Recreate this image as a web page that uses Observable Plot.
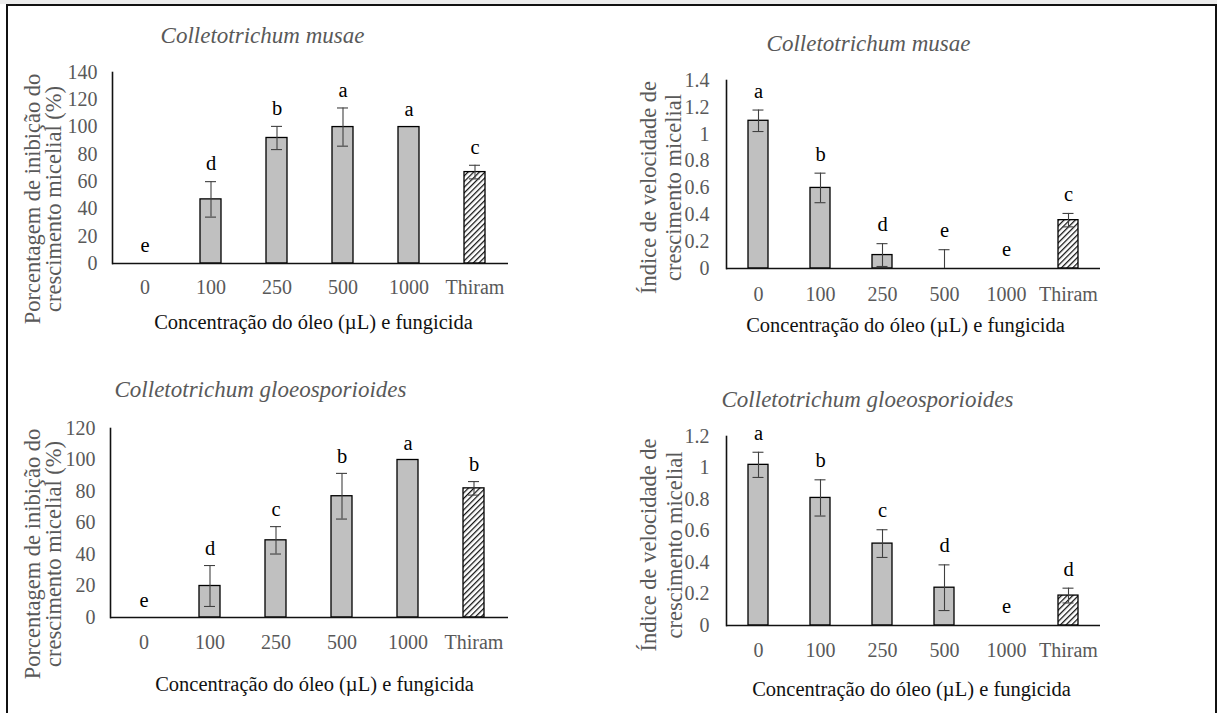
<!DOCTYPE html>
<html>
<head>
<meta charset="utf-8">
<script src="https://cdn.jsdelivr.net/npm/d3@7"></script>
<script src="https://cdn.jsdelivr.net/npm/@observablehq/plot@0.6"></script>
<style>
  html, body { margin: 0; padding: 0; background: #fff; }
  #wrap { position: relative; width: 1217px; height: 713px; overflow: hidden; background: #fff; }
  #topband { position: absolute; left: 0; top: 0; width: 1217px; height: 4px; background: #ececec; }
  #border { position: absolute; left: 6px; top: 4px; width: 1207px; height: 760px;
            border-top: 2px solid #111; border-left: 2px solid #111; border-right: 2px solid #111; }
  .panel { position: absolute; }
  .panel svg { overflow: visible; }
</style>
</head>
<body>
<svg width="0" height="0" style="position:absolute">
  <defs>
    <pattern id="hatch" patternUnits="userSpaceOnUse" width="4" height="4" patternTransform="rotate(45)">
      <rect width="4" height="4" fill="#fff"></rect>
      <line x1="0.6" y1="0" x2="0.6" y2="4" stroke="#111" stroke-width="1.3"></line>
    </pattern>
  </defs>
</svg>
<div id="wrap">
  <div id="topband"></div>
  <div id="border"></div>
</div>
<script>
// ---- data ----
const categories = ["0", "100", "250", "500", "1000", "Thiram"];

const musaeInhibition = [0, 47, 92, 100, 100, 67];
const musaeInhibitionErr = [0, 13, 8.5, 14, 0, 5];
const musaeInhibitionLetters = ["e", "d", "b", "a", "a", "c"];

const musaeIndex = [1.1, 0.6, 0.1, 0, 0, 0.36];
const musaeIndexErr = [0.08, 0.11, 0.085, 0.14, 0, 0.05];
const musaeIndexLetters = ["a", "b", "d", "e", "e", "c"];

const gloeoInhibition = [0, 20, 49, 77, 100, 82];
const gloeoInhibitionErr = [0, 13, 8.7, 14.5, 0, 4.3];
const gloeoInhibitionLetters = ["e", "d", "c", "b", "a", "b"];

const gloeoIndex = [1.02, 0.81, 0.52, 0.24, 0, 0.19];
const gloeoIndexErr = [0.08, 0.115, 0.088, 0.145, 0, 0.047];
const gloeoIndexLetters = ["a", "b", "c", "d", "e", "d"];

const ticksInhib140 = [0, 20, 40, 60, 80, 100, 120, 140];
const ticksInhib120 = [0, 20, 40, 60, 80, 100, 120];
const ticksIndex14 = [0, 0.2, 0.4, 0.6, 0.8, 1, 1.2, 1.4];
const ticksIndex12 = [0, 0.2, 0.4, 0.6, 0.8, 1, 1.2];

const titleMusae = "Colletotrichum musae";
const titleGloeo = "Colletotrichum gloeosporioides";
const xLabel = "Concentração do óleo (µL) e fungicida";
const yLabelInhib = "Porcentagem de inibição do\ncrescimento micelial (%)";
const yLabelIndex = "Índice de velocidade de\ncrescimento micelial";

const FONT = "'Liberation Serif', 'Times New Roman', serif";

function panel(cfg) {
  const data = categories.map((c, i) => ({cat: c, v: cfg.values[i], e: cfg.errors[i], l: cfg.letters[i]}));
  const plain = data.filter(d => d.cat !== "Thiram");
  const hatched = data.filter(d => d.cat === "Thiram");
  const err = data.filter(d => d.e > 0);
  const errLow = err.filter(d => d.v - d.e > 0);
  const capInset = cfg.capInset;
  return Plot.plot({
    width: cfg.width,
    height: cfg.height,
    marginLeft: cfg.ml, marginRight: cfg.mr, marginTop: cfg.mt, marginBottom: cfg.mb,
    style: {fontFamily: FONT, background: "transparent", overflow: "visible"},
    x: {domain: categories, paddingInner: 0.68, paddingOuter: 0.34, label: null},
    y: {domain: [0, cfg.ymax], label: null},
    marks: [
      Plot.axisY({ticks: cfg.ticks, tickSize: 0, tickPadding: cfg.tickPadY, fontSize: 20, fill: "#595959",
                  tickFormat: d => String(+d.toFixed(1)), label: null}),
      Plot.axisX({tickSize: 0, tickPadding: cfg.tickPadX, fontSize: 20, fill: "#595959", label: null}),
      Plot.barY(plain, {x: "cat", y: "v", fill: "#c0c0c0", stroke: "#000", strokeWidth: 1.3}),
      Plot.barY(hatched, {x: "cat", y: "v", fill: "url(#hatch)", stroke: "#000", strokeWidth: 1.3}),
      Plot.ruleY([0], {stroke: "#111", strokeWidth: 1.6}),
      Plot.frame({anchor: "left", stroke: "#111", strokeWidth: 1.6}),
      Plot.ruleX(err, {x: "cat", y1: d => Math.max(0, d.v - d.e), y2: d => d.v + d.e, stroke: "#404040", strokeWidth: 1.1}),
      Plot.tickY(err, {x: "cat", y: d => d.v + d.e, insetLeft: capInset, insetRight: capInset, stroke: "#404040", strokeWidth: 1.1}),
      Plot.tickY(errLow, {x: "cat", y: d => d.v - d.e, insetLeft: capInset, insetRight: capInset, stroke: "#404040", strokeWidth: 1.1}),
      Plot.text(data, {x: "cat", y: d => d.v + d.e, text: "l", dy: cfg.letterDy, fontSize: 20.5, fill: "#000"}),
      Plot.text([cfg.title], {frameAnchor: "top", textAnchor: "middle", lineAnchor: "middle",
                              dx: cfg.titleDx, dy: cfg.titleDy, fontSize: 23,
                              fontStyle: "italic", fill: "#595959"}),
      Plot.text([xLabel], {frameAnchor: "bottom", textAnchor: "middle", lineAnchor: "middle",
                           dx: cfg.xlDx, dy: cfg.xlDy, fontSize: 20.5, fill: "#111"}),
      Plot.text([cfg.ylabel], {frameAnchor: "left", textAnchor: "middle", lineAnchor: "middle",
                               rotate: -90, dx: cfg.ylDx, dy: cfg.ylDy, fontSize: cfg.ylFS,
                               lineHeight: cfg.ylLH, fill: "#595959"})
    ]
  });
}

const panels = [
  {left: 0, top: 0, width: 608, height: 356, ml: 112, mr: 100, mt: 72, mb: 93,
   values: musaeInhibition, errors: musaeInhibitionErr, letters: musaeInhibitionLetters,
   ymax: 140, ticks: ticksInhib140, title: titleMusae, ylabel: yLabelInhib,
   tickPadY: 15, tickPadX: 16, capInset: 5, letterDy: -18,
   titleDx: -48, titleDy: -37, xlDx: 3, xlDy: 59, ylDx: -69, ylDy: 31, ylLH: 0.97, ylFS: 22.5},
  {left: 610, top: 0, width: 607, height: 356, ml: 116, mr: 117, mt: 80, mb: 88,
   values: musaeIndex, errors: musaeIndexErr, letters: musaeIndexLetters,
   ymax: 1.4, ticks: ticksIndex14, title: titleMusae, ylabel: yLabelIndex,
   tickPadY: 17, tickPadX: 18, capInset: 4.5, letterDy: -19,
   titleDx: -45, titleDy: -37, xlDx: -8, xlDy: 57, ylDx: -66, ylDy: 13, ylLH: 1.1, ylFS: 22.5},
  {left: 0, top: 356, width: 608, height: 357, ml: 110, mr: 100, mt: 72, mb: 96,
   values: gloeoInhibition, errors: gloeoInhibitionErr, letters: gloeoInhibitionLetters,
   ymax: 120, ticks: ticksInhib120, title: titleGloeo, ylabel: yLabelInhib,
   tickPadY: 15, tickPadX: 17, capInset: 5, letterDy: -17,
   titleDx: -49, titleDy: -39, xlDx: 5, xlDy: 67, ylDx: -67, ylDy: 31, ylLH: 0.97, ylFS: 22.5},
  {left: 610, top: 356, width: 607, height: 357, ml: 116, mr: 117, mt: 80, mb: 88,
   values: gloeoIndex, errors: gloeoIndexErr, letters: gloeoIndexLetters,
   ymax: 1.2, ticks: ticksIndex12, title: titleGloeo, ylabel: yLabelIndex,
   tickPadY: 17, tickPadX: 17, capInset: 4.5, letterDy: -19,
   titleDx: -46, titleDy: -37, xlDx: -2, xlDy: 64, ylDx: -66, ylDy: 14, ylLH: 1.17, ylFS: 22.5}
];

const wrap = document.getElementById("wrap");
for (const cfg of panels) {
  const div = document.createElement("div");
  div.className = "panel";
  div.style.left = cfg.left + "px";
  div.style.top = cfg.top + "px";
  div.appendChild(panel(cfg));
  wrap.appendChild(div);
}
</script>
</body>
</html>
